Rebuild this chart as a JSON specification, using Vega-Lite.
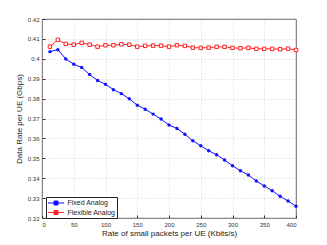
{
  "$schema": "https://vega.github.io/schema/vega-lite/v6.json",
  "width": 254,
  "height": 199,
  "autosize": "none",
  "padding": {"left": 42, "top": 19, "right": 31, "bottom": 27},
  "background": "white",
  "config": {
    "font": "Liberation Sans",
    "view": {"stroke": "#333", "strokeWidth": 0.8},
    "axis": {
      "gridColor": "#bbb",
      "gridDash": [1, 2],
      "gridWidth": 0.6,
      "domain": false,
      "tickColor": "#333",
      "tickSize": -3,
      "labelFontSize": 6,
      "labelColor": "#333",
      "titleFontSize": 8,
      "titleFontWeight": "normal",
      "titleColor": "#222"
    }
  },
  "data": {
    "values": [
      {"x": 12.5, "y": 0.4036, "series": "Fixed Analog"},
      {"x": 25, "y": 0.4046, "series": "Fixed Analog"},
      {"x": 37.5, "y": 0.3999, "series": "Fixed Analog"},
      {"x": 50, "y": 0.3973, "series": "Fixed Analog"},
      {"x": 62.5, "y": 0.3956, "series": "Fixed Analog"},
      {"x": 75, "y": 0.3921, "series": "Fixed Analog"},
      {"x": 87.5, "y": 0.3891, "series": "Fixed Analog"},
      {"x": 100, "y": 0.3872, "series": "Fixed Analog"},
      {"x": 112.5, "y": 0.3845, "series": "Fixed Analog"},
      {"x": 125, "y": 0.3825, "series": "Fixed Analog"},
      {"x": 137.5, "y": 0.3799, "series": "Fixed Analog"},
      {"x": 150, "y": 0.3767, "series": "Fixed Analog"},
      {"x": 162.5, "y": 0.3747, "series": "Fixed Analog"},
      {"x": 175, "y": 0.3722, "series": "Fixed Analog"},
      {"x": 187.5, "y": 0.3697, "series": "Fixed Analog"},
      {"x": 200, "y": 0.3667, "series": "Fixed Analog"},
      {"x": 212.5, "y": 0.365, "series": "Fixed Analog"},
      {"x": 225, "y": 0.3621, "series": "Fixed Analog"},
      {"x": 237.5, "y": 0.3588, "series": "Fixed Analog"},
      {"x": 250, "y": 0.3563, "series": "Fixed Analog"},
      {"x": 262.5, "y": 0.3538, "series": "Fixed Analog"},
      {"x": 275, "y": 0.3518, "series": "Fixed Analog"},
      {"x": 287.5, "y": 0.3491, "series": "Fixed Analog"},
      {"x": 300, "y": 0.3463, "series": "Fixed Analog"},
      {"x": 312.5, "y": 0.3437, "series": "Fixed Analog"},
      {"x": 325, "y": 0.3416, "series": "Fixed Analog"},
      {"x": 337.5, "y": 0.3386, "series": "Fixed Analog"},
      {"x": 350, "y": 0.3361, "series": "Fixed Analog"},
      {"x": 362.5, "y": 0.3337, "series": "Fixed Analog"},
      {"x": 375, "y": 0.3309, "series": "Fixed Analog"},
      {"x": 387.5, "y": 0.3285, "series": "Fixed Analog"},
      {"x": 400, "y": 0.3259, "series": "Fixed Analog"},
      {"x": 12.5, "y": 0.4061, "series": "Flexible Analog"},
      {"x": 25, "y": 0.4095, "series": "Flexible Analog"},
      {"x": 37.5, "y": 0.4075, "series": "Flexible Analog"},
      {"x": 50, "y": 0.4071, "series": "Flexible Analog"},
      {"x": 62.5, "y": 0.408, "series": "Flexible Analog"},
      {"x": 75, "y": 0.4071, "series": "Flexible Analog"},
      {"x": 87.5, "y": 0.4061, "series": "Flexible Analog"},
      {"x": 100, "y": 0.4068, "series": "Flexible Analog"},
      {"x": 112.5, "y": 0.4068, "series": "Flexible Analog"},
      {"x": 125, "y": 0.4073, "series": "Flexible Analog"},
      {"x": 137.5, "y": 0.4071, "series": "Flexible Analog"},
      {"x": 150, "y": 0.4061, "series": "Flexible Analog"},
      {"x": 162.5, "y": 0.4065, "series": "Flexible Analog"},
      {"x": 175, "y": 0.4066, "series": "Flexible Analog"},
      {"x": 187.5, "y": 0.4066, "series": "Flexible Analog"},
      {"x": 200, "y": 0.4061, "series": "Flexible Analog"},
      {"x": 212.5, "y": 0.4068, "series": "Flexible Analog"},
      {"x": 225, "y": 0.4065, "series": "Flexible Analog"},
      {"x": 237.5, "y": 0.4056, "series": "Flexible Analog"},
      {"x": 250, "y": 0.4055, "series": "Flexible Analog"},
      {"x": 262.5, "y": 0.4056, "series": "Flexible Analog"},
      {"x": 275, "y": 0.406, "series": "Flexible Analog"},
      {"x": 287.5, "y": 0.406, "series": "Flexible Analog"},
      {"x": 300, "y": 0.4055, "series": "Flexible Analog"},
      {"x": 312.5, "y": 0.4053, "series": "Flexible Analog"},
      {"x": 325, "y": 0.4055, "series": "Flexible Analog"},
      {"x": 337.5, "y": 0.405, "series": "Flexible Analog"},
      {"x": 350, "y": 0.405, "series": "Flexible Analog"},
      {"x": 362.5, "y": 0.405, "series": "Flexible Analog"},
      {"x": 375, "y": 0.4048, "series": "Flexible Analog"},
      {"x": 387.5, "y": 0.4051, "series": "Flexible Analog"},
      {"x": 400, "y": 0.4044, "series": "Flexible Analog"}
    ]
  },
  "encoding": {
    "x": {
      "field": "x", "type": "quantitative",
      "scale": {"domain": [0, 400], "nice": false},
      "axis": {"values": [0, 50, 100, 150, 200, 250, 300, 350, 400], "title": "Rate of small packets per UE (Kbits/s)", "labelPadding": 6, "titlePadding": 2}
    },
    "y": {
      "field": "y", "type": "quantitative",
      "scale": {"domain": [0.32, 0.42], "nice": false, "zero": false},
      "axis": {"values": [0.32, 0.33, 0.34, 0.35, 0.36, 0.37, 0.38, 0.39, 0.4, 0.41, 0.42], "format": ".2~f", "title": "Data Rate per UE (Gbps)", "labelPadding": 6, "titlePadding": 4}
    },
    "color": {
      "field": "series", "type": "nominal",
      "scale": {"domain": ["Fixed Analog", "Flexible Analog"], "range": ["#1010ff", "#ff2020"]},
      "legend": {
        "title": null, "orient": "none", "legendX": 4, "legendY": 178,
        "fillColor": "white", "strokeColor": "#222", "padding": 1.5,
        "labelFontSize": 7, "labelColor": "#222", "symbolSize": 64, "rowPadding": 0.5,
        "symbolType": "M-2,0H-0.5M0.5,0H2M-0.5,-0.5H0.5V0.5H-0.5Z",
        "symbolStrokeWidth": 1, "labelOffset": 7, "symbolOffset": 4,
        "encode": {"symbols": {"update": {"fill": {"signal": "datum.value === 'Fixed Analog' ? '#1010ff' : 'white'"}, "fillOpacity": {"value": 1}}}}
      }
    }
  },
  "layer": [
    {"mark": {"type": "line", "strokeWidth": 1}},
    {
      "transform": [{"filter": "datum.series === 'Fixed Analog'"}],
      "mark": {"type": "point", "shape": "circle", "size": 12, "strokeWidth": 1, "filled": true, "fillOpacity": 1}
    },
    {
      "transform": [{"filter": "datum.series === 'Flexible Analog'"}],
      "mark": {"type": "point", "shape": "square", "size": 12, "strokeWidth": 1, "fill": "white", "fillOpacity": 1}
    }
  ]
}
